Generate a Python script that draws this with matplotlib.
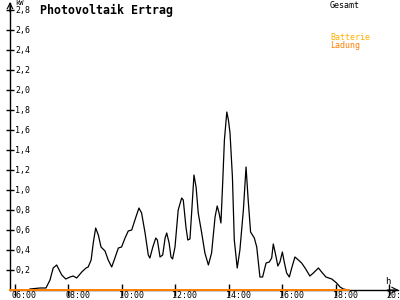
import matplotlib
matplotlib.use("Agg")
import matplotlib.pyplot as plt
import matplotlib.transforms as mtransforms

# Data (hours of day, kW)
gesamt_hours = [6.56, 6.94, 7.16, 7.31, 7.43, 7.56, 7.75, 7.90, 8.06, 8.18, 8.31, 8.50, 8.66, 8.74,
                8.85, 8.93, 9.02, 9.12, 9.22, 9.37, 9.49, 9.62, 9.74, 9.87, 9.99, 10.12, 10.24,
                10.37, 10.49, 10.64, 10.74, 10.87, 10.99, 11.05, 11.16, 11.27, 11.33, 11.43,
                11.53, 11.62, 11.68, 11.77, 11.84, 11.90, 11.99, 12.11, 12.24, 12.30, 12.40,
                12.47, 12.55, 12.62, 12.70, 12.78, 12.86, 12.99, 13.11, 13.24, 13.36, 13.49,
                13.57, 13.64, 13.71, 13.78, 13.84, 13.93, 13.99, 14.05, 14.14, 14.21, 14.32,
                14.42, 14.55, 14.65, 14.73, 14.82, 14.96, 15.05, 15.17, 15.27, 15.40, 15.52,
                15.61, 15.67, 15.76, 15.84, 15.92, 16.01, 16.08, 16.17, 16.27, 16.36, 16.48,
                16.61, 16.73, 16.86, 17.04, 17.17, 17.36, 17.48, 17.64, 17.86, 18.04, 18.17,
                18.29, 18.48]
gesamt_kw = [0.01, 0.02, 0.02, 0.10, 0.22, 0.25, 0.15, 0.11, 0.13, 0.14, 0.12, 0.18, 0.22, 0.23,
             0.30, 0.47, 0.62, 0.55, 0.43, 0.39, 0.30, 0.23, 0.32, 0.42, 0.43, 0.52, 0.59,
             0.60, 0.70, 0.82, 0.77, 0.57, 0.35, 0.32, 0.43, 0.52, 0.50, 0.33,
             0.35, 0.52, 0.57, 0.47, 0.33, 0.31, 0.43, 0.80, 0.92, 0.90, 0.63,
             0.50, 0.51, 0.80, 1.15, 1.03, 0.77, 0.57, 0.37, 0.25, 0.37, 0.73,
             0.84, 0.77, 0.67, 1.10, 1.50, 1.78, 1.70, 1.57, 1.13, 0.50, 0.22,
             0.40, 0.80, 1.23, 0.90, 0.58, 0.52, 0.43, 0.13, 0.13, 0.27, 0.28,
             0.32, 0.46, 0.35, 0.24, 0.28, 0.38, 0.28, 0.17, 0.13, 0.22, 0.33,
             0.30, 0.27, 0.22, 0.14, 0.17, 0.22, 0.18, 0.13, 0.11, 0.07, 0.03,
             0.01, 0.00]
ladung_hours = [5.813, 18.5]
ladung_kw = [0.0, 0.0]

y_ticks = [0.2, 0.4, 0.6, 0.8, 1.0, 1.2, 1.4, 1.6, 1.8, 2.0, 2.2, 2.4, 2.6, 2.8]
y_labels = ["0,2", "0,4", "0,6", "0,8", "1,0", "1,2", "1,4", "1,6", "1,8", "2,0",
            "2,2", "2,4", "2,6", "2,8"]
x_ticks = [6, 8, 10, 12, 14, 16, 18, 20]
x_labels = ["06:00", "08:00", "10:00", "12:00", "14:00", "16:00", "18:00", "20:00"]

title = "Photovoltaik Ertrag"
legend_items = [("Gesamt", "black"), ("Batterie", "#FFB000"), ("Ladung", "#FF8000")]

mono = "DejaVu Sans Mono"
fig = plt.figure(figsize=(4, 3), dpi=100)
fig.patch.set_facecolor("white")
ax = fig.add_axes([10 / 400, 10 / 300, 388 / 400, 287 / 300])
ax.set_facecolor("white")
x0, x1 = 5.813, 20.339
ax.set_xlim(x0, x1)
ax.set_ylim(0, 2.87)

for s in ["top", "right"]:
    ax.spines[s].set_visible(False)
for s in ["left", "bottom"]:
    ax.spines[s].set_color("black")
    ax.spines[s].set_linewidth(1.0)

ax.plot(gesamt_hours, gesamt_kw, color="black", lw=0.9)
ax.plot(ladung_hours, ladung_kw, color="#FF8000", lw=1.4, clip_on=False, zorder=5)

ax.set_yticks(y_ticks)
ax.set_yticklabels([])
ax.set_xticks(x_ticks)
ax.set_xticklabels([])
ax.tick_params(axis="y", direction="inout", length=6, width=1, color="black")
ax.tick_params(axis="x", direction="inout", length=8, width=1, color="black")

ytr = ax.get_yaxis_transform()
for v, lab in zip(y_ticks, y_labels):
    ax.text(5 / 388, v, lab, transform=ytr, ha="left", va="center",
            fontsize=6, family=mono, color="black")

xtr = ax.get_xaxis_transform()
off = mtransforms.offset_copy(xtr, fig=fig, x=-3, y=-5, units="dots")
for v, lab in zip(x_ticks, x_labels):
    ax.text(v, 0, lab, transform=off, ha="left", va="center",
            fontsize=6, family=mono, color="black", clip_on=False)

# axis arrows
ax.annotate("", xy=(x0, 2.88), xytext=(x0, 2.78),
            arrowprops=dict(arrowstyle="->", lw=0.8, color="black",
                            shrinkA=0, shrinkB=0), annotation_clip=False)
ax.annotate("", xy=(x1 + 0.02, 0), xytext=(x1 - 0.4, 0),
            arrowprops=dict(arrowstyle="->", lw=0.8, color="black",
                            shrinkA=0, shrinkB=0), annotation_clip=False)

fig.text(15 / 400, 1 - 3 / 300, "kW", fontsize=5, family=mono, ha="left", va="center")
fig.text(385 / 400, 1 - 281 / 300, "h", fontsize=6.5, family=mono, ha="left", va="center")
fig.text(40 / 400, 1 - 10 / 300, title, fontsize=8.4, family=mono, weight="bold",
         ha="left", va="center")

leg_y = [5, 37, 45]
for (lab, col), yy in zip(legend_items, leg_y):
    fig.text(330 / 400, 1 - yy / 300, lab, fontsize=6, family=mono, color=col,
             ha="left", va="center")

fig.savefig("out.png", dpi=100)
